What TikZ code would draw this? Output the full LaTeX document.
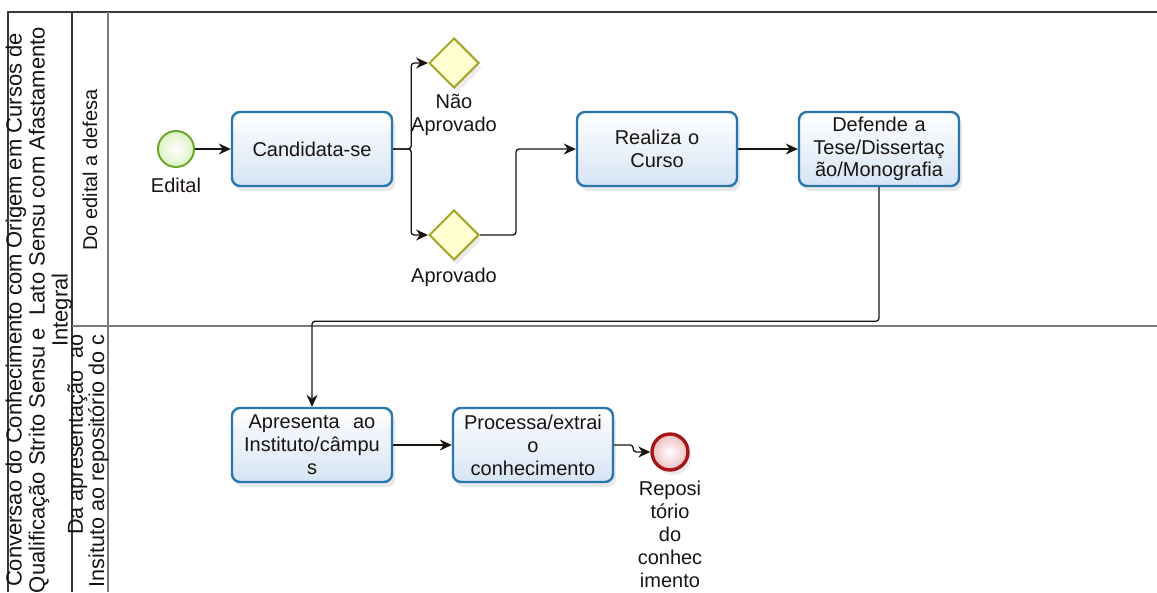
\documentclass[tikz,border=0pt]{standalone}
\usepackage{fontspec}
\setmainfont{Liberation Sans}
\usetikzlibrary{shapes.geometric,arrows.meta,shadows}

\definecolor{taskline}{HTML}{2A76AA}
\definecolor{taskfill}{HTML}{D6E4F5}
\definecolor{gwline}{HTML}{A5A52C}
\definecolor{gwfill}{HTML}{FFFFCF}
\definecolor{startline}{HTML}{6AAA2A}
\definecolor{startfill}{HTML}{DDF2C4}
\definecolor{endline}{HTML}{A4161A}
\definecolor{endfill}{HTML}{F0BDBD}
\definecolor{poolline}{HTML}{3A3A3A}
\definecolor{laneline}{HTML}{7A7A7A}
\definecolor{ink}{HTML}{1A1410}

\tikzset{
  every node/.style={font=\fontsize{20}{23}\selectfont, text=ink},
  task/.style={rectangle, rounded corners=8pt, draw=taskline, line width=2.4pt,
    top color=white, bottom color=taskfill, minimum width=160pt, minimum height=74pt,
    text width=152pt, align=center, inner sep=0pt,
    drop shadow={opacity=0.18, shadow xshift=3pt, shadow yshift=-5pt}},
  gateway/.style={diamond, draw=gwline, fill=gwfill, line width=2pt,
    minimum width=50pt, minimum height=50pt, inner sep=0pt, aspect=1,
    drop shadow={opacity=0.15, shadow xshift=3pt, shadow yshift=-5pt}},
  startev/.style={circle, draw=startline, line width=2pt, minimum size=36pt, inner sep=0pt,
    inner color=white, outer color=startfill},
  endev/.style={circle, draw=endline, line width=3.4pt, minimum size=36pt, inner sep=0pt,
    inner color=white, outer color=endfill,
    drop shadow={opacity=0.15, shadow xshift=3pt, shadow yshift=-5pt}},
  lbl/.style={align=center, inner sep=0pt},
  flow/.style={-{Stealth[length=12pt,width=11pt]}, line width=1.3pt, ink, rounded corners=3pt},
  poolrule/.style={draw=poolline, line width=1.6pt},
  lanerule/.style={draw=laneline, line width=1.6pt},
}

\begin{document}
\begin{tikzpicture}[x=1pt,y=1pt]
\useasboundingbox (0,0) rectangle (1157,-592);
\clip (0,0) rectangle (1157,-592);

% pool and lane frames
\draw[poolrule] (8,-592) -- (8,-12) -- (1157,-12);
\draw[poolrule] (72,-12) -- (72,-592);
\draw[lanerule] (108,-12) -- (108,-592);
\draw[lanerule] (72,-326) -- (1157,-326);

% pool header and lane titles
\node[rotate=90, align=center, inner sep=0pt, font=\fontsize{22}{23}\selectfont] (poolname) at (39,-310)
  {Conversao do Conhecimento com Origem em Cursos de\\
   Qualificação Strito Sensu e\ \ Lato Sensu com Afastamento\\
   Integral};
\node[rotate=90, inner sep=0pt] (lane1) at (90,-170) {Do edital a defesa};
\node[rotate=90, anchor=east, align=right, inner sep=0pt, font=\fontsize{21.6}{20}\selectfont] (lane2) at (88,-334)
  {Da apresentação\ \ ao\\Insituto ao repositório do c};

% lane 1: from the call to the defence
\node[startev] (edital) at (176,-149) {};
\node[lbl] (editalL) at (176,-185) {Edital};
\node[task] (cand) at (312,-149) {Candidata-se};
\node[gateway] (gnao) at (454,-63) {};
\node[lbl] (gnaoL) at (454,-115) {Não\\Aprovado};
\node[gateway] (gapr) at (454,-235) {};
\node[lbl] (gaprL) at (454,-277) {Aprovado};
\node[task] (realiza) at (657,-149) {Realiza o\\Curso};
\node[task, font=\fontsize{20}{22.5}\selectfont] (defende) at (879,-149) {Defende a\\Tese/Dissertaç\\ão/Monografia};

% lane 2: from the submission to the repository
\node[task] (apresenta) at (312,-445) {Apresenta\ \ ao\\Instituto/câmpu\\s};
\node[task] (processa) at (533,-445) {Processa/extrai\\o\\conhecimento};
\node[endev] (repo) at (670,-452) {};
\node[lbl] (repoL) at (670,-534) {Reposi\\tório\\do\\conhec\\imento};

% sequence flows
\draw[flow] (edital) -- (cand);
\draw[flow] (cand.east) -- ++(18,0) |- (gnao.west);
\draw[flow] (cand.east) -- ++(18,0) |- (gapr.west);
\draw[flow] (gapr.east) -- ++(36,0) |- (realiza.west);
\draw[flow] (realiza) -- (defende);
\draw[flow] (defende.south) -- ++(0,-134) -| (apresenta.north);
\draw[flow] (apresenta) -- (processa);
\draw[flow] (processa.east) -- ++(19,0) |- (repo.west);
\end{tikzpicture}
\end{document}
